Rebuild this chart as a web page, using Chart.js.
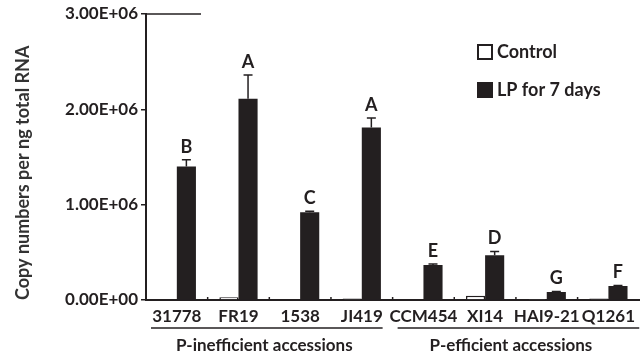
<!DOCTYPE html>
<html>
<head>
<meta charset="utf-8">
<script src="https://cdn.jsdelivr.net/npm/chart.js@4.4.0/dist/chart.umd.min.js"></script>
<style>
  body { margin: 0; background: #fff; }
</style>
</head>
<body>
<canvas id="myBarChart" width="641" height="356"></canvas>
<script>
// Copy numbers chart

const accessions = ["31778", "FR19", "1538", "JI419", "CCM454", "XI14", "HAI9-21", "Q1261"];
const controlValues = [0, 30000, 8000, 15000, 8000, 45000, 5000, 15000];
const lpValues = [1400000, 2110000, 920000, 1810000, 366000, 470000, 84000, 146000];
const lpErrors = [70000, 250000, 10000, 100000, 12000, 40000, 5000, 5000];
const letters = ["B", "A", "C", "A", "E", "D", "G", "F"];
const yTicks = [0, 1000000, 2000000, 3000000];
const groups = [
  { label: "P-inefficient accessions", from: 0, to: 3 },
  { label: "P-efficient accessions", from: 4, to: 7 }
];

const ink = "#231f20";
const fontFamily = "Lato, 'Open Sans', sans-serif";

function sci(v) {
  if (v === 0) return "0.00E+00";
  let e = Math.floor(Math.log10(v));
  let m = v / Math.pow(10, e);
  return m.toFixed(2) + "E+" + String(e).padStart(2, "0");
}

// error bars, letters, legend, group labels
const extras = {
  id: "extras",
  afterDatasetsDraw(chart) {
    const ctx = chart.ctx;
    const y = chart.scales.y;
    const area = chart.chartArea;
    const meta = chart.getDatasetMeta(1);
    const catW = (area.right - area.left) / accessions.length;

    ctx.save();
    ctx.strokeStyle = ink;
    ctx.fillStyle = ink;

    // error bars + letters
    meta.data.forEach((bar, i) => {
      const top = y.getPixelForValue(lpValues[i] + lpErrors[i]);
      ctx.lineWidth = 1.5;
      ctx.beginPath();
      ctx.moveTo(bar.x, bar.y);
      ctx.lineTo(bar.x, top);
      ctx.moveTo(bar.x - 4.5, top);
      ctx.lineTo(bar.x + 4.5, top);
      ctx.stroke();

      ctx.font = "bold 18px " + fontFamily;
      ctx.textAlign = "center";
      ctx.textBaseline = "middle";
      ctx.fillText(letters[i], bar.x, top - 13);
    });

    // small inside ticks between categories
    ctx.lineWidth = 1.5;
    for (let i = 1; i < accessions.length; i++) {
      const bx = area.left + i * catW;
      ctx.beginPath();
      ctx.moveTo(bx, area.bottom);
      ctx.lineTo(bx, area.bottom - 3);
      ctx.stroke();
    }

    // short line at top of y axis
    ctx.beginPath();
    ctx.moveTo(area.left - 1, area.top);
    ctx.lineTo(area.left + 55, area.top);
    ctx.stroke();

    // legend
    ctx.font = "bold 18px " + fontFamily;
    ctx.textAlign = "left";
    ctx.textBaseline = "middle";
    chart.data.datasets.forEach((ds, k) => {
      const ly = 52 + k * 38;
      ctx.fillStyle = ds.backgroundColor;
      ctx.fillRect(478, ly - 7, 14, 14);
      ctx.lineWidth = 2;
      ctx.strokeStyle = ink;
      ctx.strokeRect(478, ly - 7, 14, 14);
      ctx.fillStyle = ink;
      ctx.fillText(ds.label, 497, ly);
    });

    // group labels and underlines
    groups.forEach((g, k) => {
      const x0 = area.left + g.from * catW;
      const x1 = area.left + (g.to + 1) * catW;
      ctx.lineWidth = 1.5;
      ctx.beginPath();
      ctx.moveTo(x0 + 5, 328);
      ctx.lineTo(k === groups.length - 1 ? x1 : x1 - 10, 328);
      ctx.stroke();
      ctx.font = "bold 17px " + fontFamily;
      ctx.textAlign = "center";
      ctx.fillText(g.label, (x0 + x1) / 2 - 5, 346);
    });

    ctx.restore();
  }
};

let barCanvas = document.getElementById("myBarChart");

let myBarChart = new Chart(barCanvas, {
  type: "bar",
  data: {
    labels: accessions,
    datasets: [
      {
        label: "Control",
        data: controlValues,
        backgroundColor: "#ffffff",
        borderColor: ink,
        borderWidth: 1.5,
        categoryPercentage: 0.62,
        barPercentage: 1.0
      },
      {
        label: "LP for 7 days",
        data: lpValues,
        backgroundColor: ink,
        categoryPercentage: 0.62,
        barPercentage: 1.0
      }
    ]
  },
  options: {
    responsive: false,
    animation: false,
    devicePixelRatio: 1,
    layout: { padding: { top: 14, right: 0, bottom: 0, left: 0 } },
    plugins: {
      legend: { display: false },
      tooltip: { enabled: false }
    },
    scales: {
      x: {
        grid: { display: false, drawTicks: false, tickLength: 0 },
        border: { display: true, color: ink, width: 2 },
        ticks: {
          color: ink,
          padding: 6,
          maxRotation: 0,
          autoSkip: false,
          font: { family: fontFamily, size: 17, weight: "bold" }
        },
        afterFit(scale) { scale.height = 56; }
      },
      y: {
        min: 0,
        max: 3000000,
        afterBuildTicks(scale) { scale.ticks = yTicks.map(v => ({ value: v })); },
        grid: { drawOnChartArea: false, drawTicks: true, tickLength: 5, color: ink, lineWidth: 1.5 },
        border: { display: true, color: ink, width: 2 },
        ticks: {
          color: ink,
          padding: 3,
          font: { family: fontFamily, size: 17, weight: "bold" },
          callback: v => sci(v)
        },
        title: {
          display: true,
          text: "Copy numbers per ng total RNA",
          align: "start",
          color: "#333",
          padding: { top: 12, bottom: 0 },
          font: { family: fontFamily, size: 18, weight: "bold" }
        },
        afterFit(scale) { scale.width = 146; }
      }
    }
  },
  plugins: [extras]
});
</script>
</body>
</html>
